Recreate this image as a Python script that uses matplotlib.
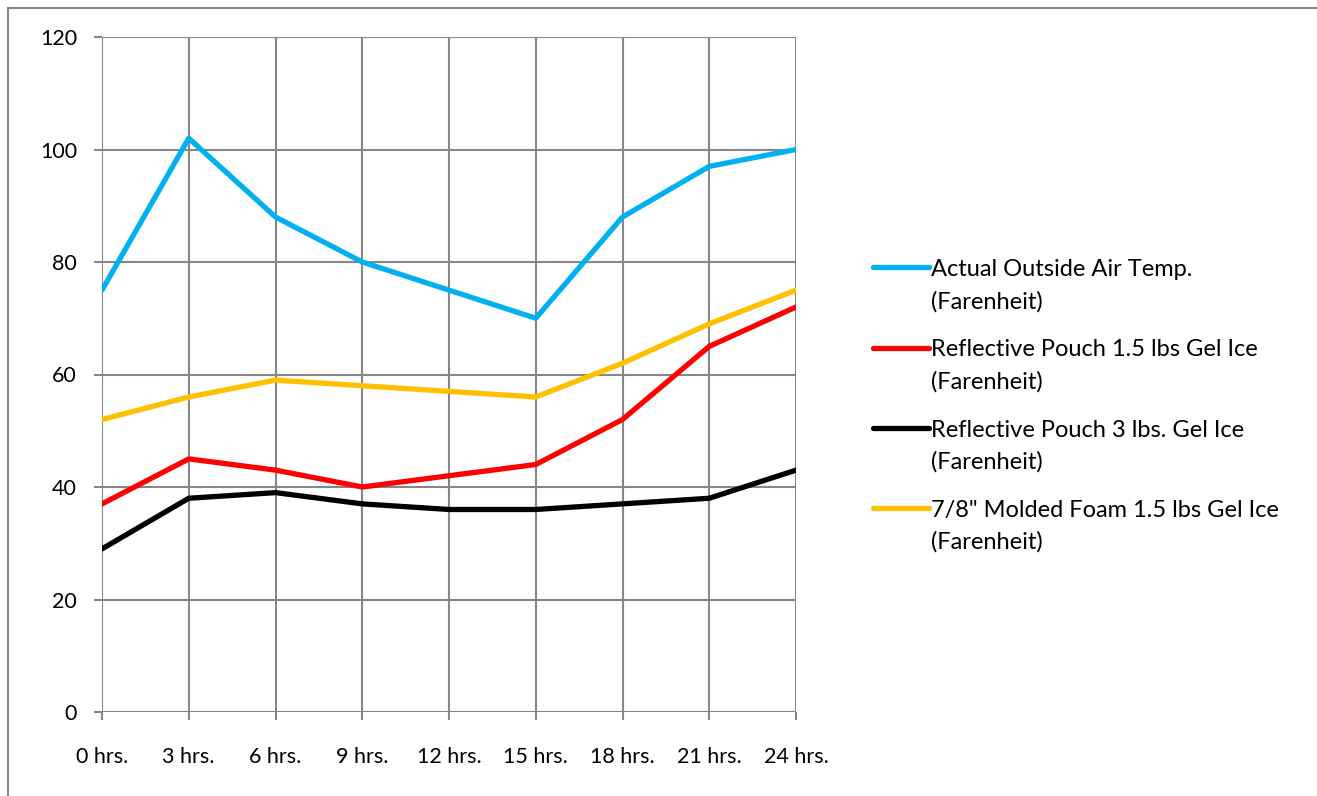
import numpy as np
import matplotlib.pyplot as plt
from matplotlib.lines import Line2D

plt.rcParams['font.family'] = ['Lato', 'DejaVu Sans']

hours = ['0 hrs.', '3 hrs.', '6 hrs.', '9 hrs.', '12 hrs.', '15 hrs.', '18 hrs.', '21 hrs.', '24 hrs.']
outside_air = [75, 102, 88, 80, 75, 70, 88, 97, 100]
pouch_15 = [37, 45, 43, 40, 42, 44, 52, 65, 72]
pouch_3 = [29, 38, 39, 37, 36, 36, 37, 38, 43]
foam_15 = [52, 56, 59, 58, 57, 56, 62, 69, 75]

labels = ['Actual Outside Air Temp.\n(Farenheit)',
          'Reflective Pouch 1.5 lbs Gel Ice\n(Farenheit)',
          'Reflective Pouch 3 lbs. Gel Ice\n(Farenheit)',
          '7/8" Molded Foam 1.5 lbs Gel Ice\n(Farenheit)']
colors = ['#00B0F0', '#FF0000', '#000000', '#FFC000']

W, H = 1317, 796
fig = plt.figure(figsize=(W / 100, H / 100), dpi=100)
ax = fig.add_axes([102 / W, (H - 712) / H, (796 - 102) / W, (712 - 37) / H])

x = np.arange(len(hours))
for series, c, lab in zip([outside_air, pouch_15, pouch_3, foam_15], colors, labels):
    ax.plot(x, series, color=c, lw=3.8, label=lab, solid_capstyle='round')

ax.set_xlim(0, len(hours) - 1)
ax.set_ylim(0, 120)
ax.set_yticks(range(0, 121, 20))
ax.set_xticks(x)
ax.set_xticklabels(hours)
ax.grid(True, color='#878787', lw=1.5)
ax.set_axisbelow(True)
for s in ax.spines.values():
    s.set_visible(False)
ax.tick_params(axis='both', colors='#878787', labelcolor='black', labelsize=15.5,
               length=6, width=1.5)
ax.tick_params(axis='x', pad=19)
ax.tick_params(axis='y', pad=12)

leg = fig.legend(loc='upper left', bbox_to_anchor=(852 / W, 1 - 238 / H), frameon=False,
                 fontsize=17, handlelength=2.35, handleheight=2.6, handletextpad=0.1,
                 labelspacing=1.15)
for t in leg.get_texts():
    t.set_linespacing(1.6)
# put each legend line next to the first text line, like the original
for h in leg.legend_handles:
    h.set_ydata(np.asarray(h.get_ydata()) + 8.6)

# outer chart border (left and top edges visible)
fig.add_artist(Line2D([8 / W, 8 / W], [0, 1 - 8 / H], transform=fig.transFigure, color='#888888', lw=1.5))
fig.add_artist(Line2D([8 / W, 1], [1 - 8 / H, 1 - 8 / H], transform=fig.transFigure, color='#888888', lw=1.5))

plt.savefig('out.png', dpi=100)
